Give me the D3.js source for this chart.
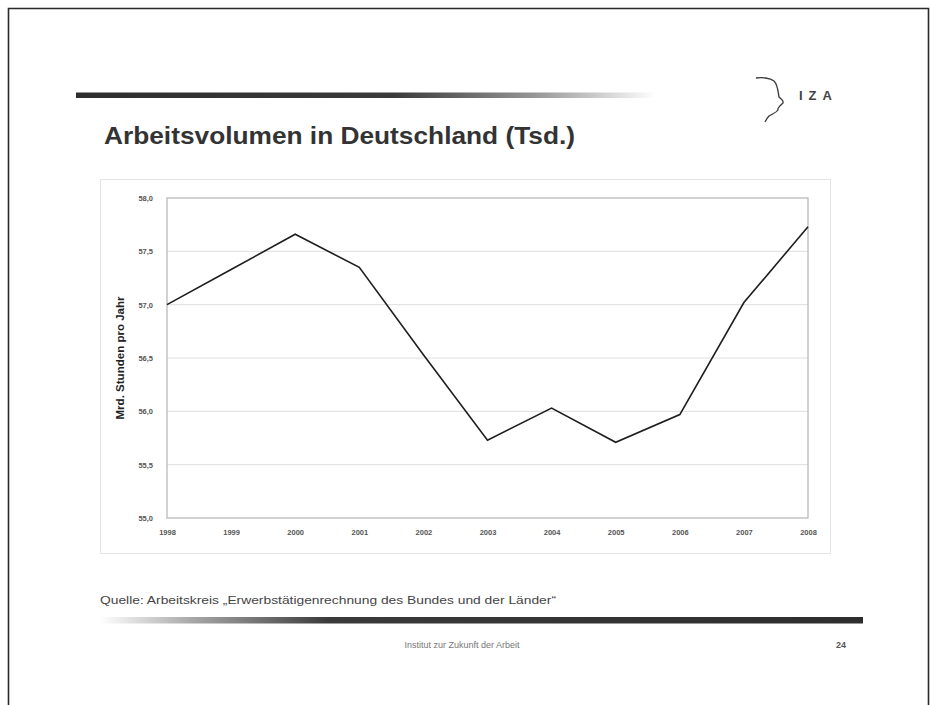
<!DOCTYPE html>
<html>
<head>
<meta charset="utf-8">
<script src="https://cdn.jsdelivr.net/npm/d3@7/dist/d3.min.js"></script>
<style>
  html, body { margin: 0; padding: 0; background: #fff; }
  svg { display: block; font-family: "Liberation Sans", Arial, sans-serif; }
</style>
</head>
<body>
<svg id="slide" width="930" height="705"></svg>
<script>
// Arbeitsvolumen (Mrd. Stunden pro Jahr), 1998–2008
const years = [1998, 1999, 2000, 2001, 2002, 2003, 2004, 2005, 2006, 2007, 2008];
const hours = [57.0, 57.33, 57.66, 57.35, 56.53, 55.73, 56.03, 55.71, 55.97, 57.02, 57.73];
const yTicks = [55.0, 55.5, 56.0, 56.5, 57.0, 57.5, 58.0];

const titleText = "Arbeitsvolumen in Deutschland (Tsd.)";
const yAxisTitle = "Mrd. Stunden pro Jahr";
const sourceText = "Quelle: Arbeitskreis \u201EErwerbstätigenrechnung des Bundes und der Länder\u201C";
const footerText = "Institut zur Zukunft der Arbeit";
const pageNumber = "24";

const svg = d3.select("#slide");
const defs = svg.append("defs");

// slide frame
svg.append("path")
  .attr("d", "M8.5,705 V8.5 H928.5 V705")
  .attr("fill", "none").attr("stroke", "#2a2a2a").attr("stroke-width", 1.6);

// header bar fading out to the right
const gTop = defs.append("linearGradient").attr("id", "barTop")
  .attr("x1", "0").attr("x2", "1").attr("y1", "0").attr("y2", "0");
gTop.append("stop").attr("offset", "0").attr("stop-color", "#2e2e2e");
gTop.append("stop").attr("offset", "0.55").attr("stop-color", "#3a3a3a");
gTop.append("stop").attr("offset", "0.8").attr("stop-color", "#9a9a9a");
gTop.append("stop").attr("offset", "1").attr("stop-color", "#ffffff");
svg.append("rect").attr("x", 76).attr("y", 92.5).attr("width", 580).attr("height", 5.5)
  .attr("fill", "url(#barTop)");

// footer bar fading in from the left
const gBot = defs.append("linearGradient").attr("id", "barBot")
  .attr("x1", "0").attr("x2", "1").attr("y1", "0").attr("y2", "0");
gBot.append("stop").attr("offset", "0").attr("stop-color", "#ffffff");
gBot.append("stop").attr("offset", "0.12").attr("stop-color", "#a8a8a8");
gBot.append("stop").attr("offset", "0.3").attr("stop-color", "#3a3a3a");
gBot.append("stop").attr("offset", "1").attr("stop-color", "#2e2e2e");
svg.append("rect").attr("x", 100).attr("y", 617).attr("width", 763).attr("height", 6.5)
  .attr("fill", "url(#barBot)");

// IZA logo: head profile and letters
svg.append("path")
  .attr("d", "M756,78 C762,77 770,78 774,81 C778,85 778,92 779,97 C781,99 784,100 783,103 C780,106 777,108 778,110 C776,113 772,114 769,116 C767,118 766,120 765,122")
  .attr("fill", "none").attr("stroke", "#3a3a3a").attr("stroke-width", 1.3);
svg.append("text").attr("x", 799).attr("y", 100)
  .attr("font-size", 13).attr("font-weight", "bold").attr("fill", "#444")
  .attr("letter-spacing", 6).text("IZA");

// title
svg.append("text").attr("x", 104).attr("y", 144)
  .attr("font-size", 24).attr("font-weight", "bold").attr("fill", "#333")
  .attr("textLength", 471).attr("lengthAdjust", "spacingAndGlyphs")
  .text(titleText);

// chart box
svg.append("rect").attr("x", 100.5).attr("y", 179.5).attr("width", 730).attr("height", 374)
  .attr("fill", "#fff").attr("stroke", "#e4e4e4").attr("stroke-width", 1);

const plot = { left: 167, right: 808, top: 198, bottom: 518 };

const x = d3.scalePoint().domain(years).range([plot.left, plot.right]);
const y = d3.scaleLinear().domain([55, 58]).range([plot.bottom, plot.top]);

const fmt = v => d3.format(".1f")(v).replace(".", ",");

// horizontal gridlines
svg.append("g")
  .selectAll("line").data(yTicks.filter(t => t > 55 && t < 58)).join("line")
  .attr("x1", plot.left).attr("x2", plot.right)
  .attr("y1", d => y(d)).attr("y2", d => y(d))
  .attr("stroke", "#dedede").attr("stroke-width", 1);

// plot frame
svg.append("rect")
  .attr("x", plot.left).attr("y", plot.top)
  .attr("width", plot.right - plot.left).attr("height", plot.bottom - plot.top)
  .attr("fill", "none").attr("stroke", "#b4b4b4").attr("stroke-width", 1.2);

// y axis
const yAxis = svg.append("g").attr("transform", `translate(${plot.left},0)`)
  .call(d3.axisLeft(y).tickValues(yTicks).tickFormat(fmt).tickSize(0).tickPadding(14));
yAxis.select(".domain").remove();
yAxis.selectAll("text").attr("font-size", 7.5).attr("font-weight", "bold").attr("fill", "#555")
  .attr("font-family", "Liberation Sans, Arial, sans-serif");

// x axis
const xAxis = svg.append("g").attr("transform", `translate(0,${plot.bottom})`)
  .call(d3.axisBottom(x).tickFormat(d => String(d)).tickSize(0).tickPadding(12));
xAxis.select(".domain").remove();
xAxis.selectAll("text").attr("font-size", 7.5).attr("font-weight", "bold").attr("fill", "#555")
  .attr("font-family", "Liberation Sans, Arial, sans-serif");

// y axis title
svg.append("text")
  .attr("transform", `translate(124,${(plot.top + plot.bottom) / 2}) rotate(-90)`)
  .attr("text-anchor", "middle").attr("font-size", 10).attr("font-weight", "bold")
  .attr("fill", "#222")
  .attr("textLength", 123).attr("lengthAdjust", "spacingAndGlyphs")
  .text(yAxisTitle);

// data line
svg.append("path")
  .datum(years.map((yr, i) => [yr, hours[i]]))
  .attr("d", d3.line().x(d => x(d[0])).y(d => y(d[1])))
  .attr("fill", "none").attr("stroke", "#1e1e1e").attr("stroke-width", 1.6)
  .attr("stroke-linejoin", "miter");

// source note
svg.append("text").attr("x", 100).attr("y", 604)
  .attr("font-size", 10.5).attr("fill", "#444")
  .attr("textLength", 456).attr("lengthAdjust", "spacingAndGlyphs")
  .text(sourceText);

// footer
svg.append("text").attr("x", 462).attr("y", 648).attr("text-anchor", "middle")
  .attr("font-size", 9).attr("fill", "#777").text(footerText);
svg.append("text").attr("x", 841).attr("y", 648).attr("text-anchor", "middle")
  .attr("font-size", 9).attr("font-weight", "bold").attr("fill", "#555").text(pageNumber);
</script>
</body>
</html>
